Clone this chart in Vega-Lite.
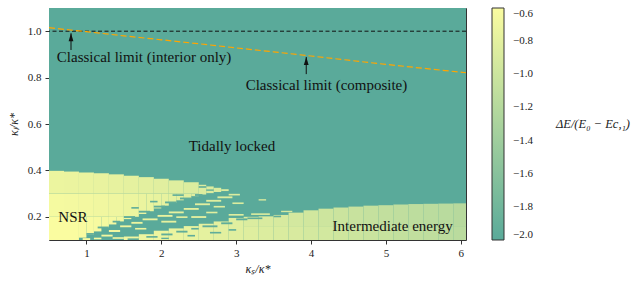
{
  "$schema": "https://vega.github.io/schema/vega-lite/v6.json",
  "width": 417,
  "height": 232,
  "autosize": "none",
  "padding": {"left": 49, "top": 8, "right": 178, "bottom": 44},
  "background": "white",
  "datasets": {
    "cells": [
      {"x": 0.5, "x2": 6.07, "y": 0.1, "y2": 1.1, "v": -2.0},
      {"x": 0.5, "x2": 0.7, "y": 0.1, "y2": 0.2, "v": -0.6},
      {"x": 0.5, "x2": 0.7, "y": 0.2, "y2": 0.3, "v": -0.64},
      {"x": 0.5, "x2": 0.7, "y": 0.3, "y2": 0.398, "v": -0.72},
      {"x": 0.7, "x2": 0.9, "y": 0.1, "y2": 0.2, "v": -0.6},
      {"x": 0.7, "x2": 0.9, "y": 0.2, "y2": 0.3, "v": -0.65},
      {"x": 0.7, "x2": 0.9, "y": 0.3, "y2": 0.395, "v": -0.73},
      {"x": 0.9, "x2": 1.1, "y": 0.3, "y2": 0.391, "v": -0.74},
      {"x": 1.1, "x2": 1.3, "y": 0.3, "y2": 0.388, "v": -0.75},
      {"x": 1.3, "x2": 1.5, "y": 0.3, "y2": 0.383, "v": -0.77},
      {"x": 1.5, "x2": 1.7, "y": 0.3, "y2": 0.377, "v": -0.78},
      {"x": 1.7, "x2": 1.9, "y": 0.3, "y2": 0.371, "v": -0.8},
      {"x": 1.9, "x2": 2.1, "y": 0.3, "y2": 0.364, "v": -0.82},
      {"x": 2.1, "x2": 2.3, "y": 0.3, "y2": 0.357, "v": -0.84},
      {"x": 2.3, "x2": 2.5, "y": 0.3, "y2": 0.349, "v": -0.86},
      {"x": 0.9, "x2": 1.1, "y": 0.2, "y2": 0.3, "v": -0.66},
      {"x": 1.1, "x2": 1.3, "y": 0.2, "y2": 0.3, "v": -0.68},
      {"x": 1.3, "x2": 1.5, "y": 0.2, "y2": 0.3, "v": -0.7},
      {"x": 1.5, "x2": 1.7, "y": 0.2, "y2": 0.3, "v": -0.72},
      {"x": 1.7, "x2": 1.8, "y": 0.212, "y2": 0.3, "v": -0.73},
      {"x": 1.8, "x2": 1.9, "y": 0.224, "y2": 0.3, "v": -0.74},
      {"x": 1.9, "x2": 2.0, "y": 0.236, "y2": 0.3, "v": -0.76},
      {"x": 2.0, "x2": 2.1, "y": 0.248, "y2": 0.3, "v": -0.77},
      {"x": 2.1, "x2": 2.2, "y": 0.26, "y2": 0.3, "v": -0.79},
      {"x": 2.2, "x2": 2.3, "y": 0.271, "y2": 0.3, "v": -0.8},
      {"x": 2.3, "x2": 2.4, "y": 0.28, "y2": 0.3, "v": -0.82},
      {"x": 2.4, "x2": 2.5, "y": 0.289, "y2": 0.3, "v": -0.84},
      {"x": 0.9, "x2": 1.0, "y": 0.11, "y2": 0.2, "v": -0.61},
      {"x": 1.0, "x2": 1.1, "y": 0.122, "y2": 0.2, "v": -0.62},
      {"x": 1.1, "x2": 1.2, "y": 0.137, "y2": 0.2, "v": -0.63},
      {"x": 1.2, "x2": 1.3, "y": 0.152, "y2": 0.2, "v": -0.64},
      {"x": 1.3, "x2": 1.4, "y": 0.167, "y2": 0.2, "v": -0.65},
      {"x": 1.4, "x2": 1.5, "y": 0.18, "y2": 0.2, "v": -0.67},
      {"x": 1.5, "x2": 1.6, "y": 0.19, "y2": 0.2, "v": -0.69},
      {"x": 2.5, "x2": 2.6, "y": 0.296, "y2": 0.338, "v": -0.86},
      {"x": 2.6, "x2": 2.7, "y": 0.302, "y2": 0.331, "v": -0.87},
      {"x": 2.7, "x2": 2.8, "y": 0.307, "y2": 0.325, "v": -0.88},
      {"x": 2.8, "x2": 2.9, "y": 0.311, "y2": 0.319, "v": -0.89},
      {"x": 1.5, "x2": 1.7, "y": 0.1, "y2": 0.115, "v": -0.7},
      {"x": 1.7, "x2": 1.9, "y": 0.1, "y2": 0.125, "v": -0.71},
      {"x": 1.9, "x2": 2.1, "y": 0.1, "y2": 0.14, "v": -0.72},
      {"x": 2.1, "x2": 2.3, "y": 0.1, "y2": 0.15, "v": -0.74},
      {"x": 2.3, "x2": 2.5, "y": 0.1, "y2": 0.16, "v": -0.76},
      {"x": 2.5, "x2": 2.7, "y": 0.1, "y2": 0.17, "v": -0.78},
      {"x": 2.7, "x2": 2.9, "y": 0.1, "y2": 0.18, "v": -0.8},
      {"x": 2.9, "x2": 3.1, "y": 0.1, "y2": 0.195, "v": -0.82},
      {"x": 3.1, "x2": 3.3, "y": 0.1, "y2": 0.16, "v": -0.84},
      {"x": 3.1, "x2": 3.3, "y": 0.16, "y2": 0.2, "v": -0.87},
      {"x": 3.3, "x2": 3.5, "y": 0.1, "y2": 0.16, "v": -0.86},
      {"x": 3.3, "x2": 3.5, "y": 0.16, "y2": 0.202, "v": -0.89},
      {"x": 3.5, "x2": 3.7, "y": 0.1, "y2": 0.16, "v": -0.88},
      {"x": 3.5, "x2": 3.7, "y": 0.16, "y2": 0.208, "v": -0.91},
      {"x": 3.7, "x2": 3.9, "y": 0.1, "y2": 0.16, "v": -0.9},
      {"x": 3.7, "x2": 3.9, "y": 0.16, "y2": 0.218, "v": -0.94},
      {"x": 3.9, "x2": 4.1, "y": 0.1, "y2": 0.16, "v": -0.93},
      {"x": 3.9, "x2": 4.1, "y": 0.16, "y2": 0.228, "v": -0.96},
      {"x": 4.1, "x2": 4.3, "y": 0.1, "y2": 0.16, "v": -0.95},
      {"x": 4.1, "x2": 4.3, "y": 0.16, "y2": 0.235, "v": -0.99},
      {"x": 4.3, "x2": 4.5, "y": 0.1, "y2": 0.16, "v": -0.98},
      {"x": 4.3, "x2": 4.5, "y": 0.16, "y2": 0.24, "v": -1.01},
      {"x": 4.5, "x2": 4.7, "y": 0.1, "y2": 0.16, "v": -1.0},
      {"x": 4.5, "x2": 4.7, "y": 0.16, "y2": 0.244, "v": -1.04},
      {"x": 4.7, "x2": 4.9, "y": 0.1, "y2": 0.16, "v": -1.03},
      {"x": 4.7, "x2": 4.9, "y": 0.16, "y2": 0.248, "v": -1.06},
      {"x": 4.9, "x2": 5.1, "y": 0.1, "y2": 0.16, "v": -1.05},
      {"x": 4.9, "x2": 5.1, "y": 0.16, "y2": 0.25, "v": -1.09},
      {"x": 5.1, "x2": 5.3, "y": 0.1, "y2": 0.16, "v": -1.08},
      {"x": 5.1, "x2": 5.3, "y": 0.16, "y2": 0.253, "v": -1.11},
      {"x": 5.3, "x2": 5.5, "y": 0.1, "y2": 0.16, "v": -1.1},
      {"x": 5.3, "x2": 5.5, "y": 0.16, "y2": 0.255, "v": -1.13},
      {"x": 5.5, "x2": 5.7, "y": 0.1, "y2": 0.16, "v": -1.12},
      {"x": 5.5, "x2": 5.7, "y": 0.16, "y2": 0.256, "v": -1.15},
      {"x": 5.7, "x2": 5.9, "y": 0.1, "y2": 0.16, "v": -1.14},
      {"x": 5.7, "x2": 5.9, "y": 0.16, "y2": 0.257, "v": -1.17},
      {"x": 5.9, "x2": 6.07, "y": 0.1, "y2": 0.16, "v": -1.16},
      {"x": 5.9, "x2": 6.07, "y": 0.16, "y2": 0.258, "v": -1.19},
      {"x": 1.0, "x2": 1.1, "y": 0.122, "y2": 0.13, "v": -1.95},
      {"x": 1.15, "x2": 1.3, "y": 0.15, "y2": 0.158, "v": -1.95},
      {"x": 1.35, "x2": 1.45, "y": 0.175, "y2": 0.183, "v": -1.95},
      {"x": 1.5, "x2": 1.65, "y": 0.195, "y2": 0.203, "v": -1.95},
      {"x": 1.7, "x2": 1.85, "y": 0.218, "y2": 0.226, "v": -1.95},
      {"x": 1.9, "x2": 2.05, "y": 0.24, "y2": 0.248, "v": -1.95},
      {"x": 2.05, "x2": 2.2, "y": 0.258, "y2": 0.266, "v": -1.95},
      {"x": 2.25, "x2": 2.4, "y": 0.275, "y2": 0.283, "v": -1.95},
      {"x": 2.45, "x2": 2.55, "y": 0.29, "y2": 0.298, "v": -1.95},
      {"x": 2.6, "x2": 2.7, "y": 0.312, "y2": 0.318, "v": -1.95},
      {"x": 2.5, "x2": 2.6, "y": 0.325, "y2": 0.332, "v": -1.95},
      {"x": 1.6, "x2": 1.7, "y": 0.235, "y2": 0.242, "v": -1.95},
      {"x": 1.85, "x2": 1.95, "y": 0.262, "y2": 0.269, "v": -1.95},
      {"x": 2.15, "x2": 2.3, "y": 0.29, "y2": 0.297, "v": -1.95},
      {"x": 1.55, "x2": 1.7, "y": 0.1, "y2": 0.107, "v": -1.95},
      {"x": 1.8, "x2": 1.95, "y": 0.11, "y2": 0.117, "v": -1.95},
      {"x": 2.0, "x2": 2.15, "y": 0.12, "y2": 0.128, "v": -1.95},
      {"x": 2.2, "x2": 2.35, "y": 0.132, "y2": 0.14, "v": -1.95},
      {"x": 2.4, "x2": 2.5, "y": 0.145, "y2": 0.152, "v": -1.95},
      {"x": 2.55, "x2": 2.75, "y": 0.155, "y2": 0.163, "v": -1.95},
      {"x": 2.8, "x2": 2.95, "y": 0.168, "y2": 0.176, "v": -1.95},
      {"x": 2.65, "x2": 2.8, "y": 0.128, "y2": 0.135, "v": -1.95},
      {"x": 2.35, "x2": 2.45, "y": 0.115, "y2": 0.122, "v": -1.95},
      {"x": 3.0, "x2": 3.15, "y": 0.185, "y2": 0.193, "v": -1.95},
      {"x": 3.15, "x2": 3.35, "y": 0.19, "y2": 0.197, "v": -1.95},
      {"x": 3.5, "x2": 3.6, "y": 0.198, "y2": 0.205, "v": -1.95},
      {"x": 2.0, "x2": 2.1, "y": 0.104, "y2": 0.11, "v": -1.95},
      {"x": 2.9, "x2": 3.0, "y": 0.14, "y2": 0.147, "v": -1.95},
      {"x": 0.95, "x2": 1.05, "y": 0.1, "y2": 0.108, "v": -0.63},
      {"x": 1.2, "x2": 1.35, "y": 0.115, "y2": 0.123, "v": -0.66},
      {"x": 1.3, "x2": 1.45, "y": 0.135, "y2": 0.143, "v": -0.68},
      {"x": 1.45, "x2": 1.6, "y": 0.155, "y2": 0.163, "v": -0.7},
      {"x": 1.6, "x2": 1.75, "y": 0.17, "y2": 0.178, "v": -0.72},
      {"x": 1.75, "x2": 1.95, "y": 0.185, "y2": 0.193, "v": -0.74},
      {"x": 1.95, "x2": 2.15, "y": 0.2, "y2": 0.208, "v": -0.76},
      {"x": 2.1, "x2": 2.3, "y": 0.215, "y2": 0.223, "v": -0.78},
      {"x": 2.3, "x2": 2.5, "y": 0.23, "y2": 0.238, "v": -0.8},
      {"x": 2.45, "x2": 2.65, "y": 0.25, "y2": 0.258, "v": -0.82},
      {"x": 2.6, "x2": 2.8, "y": 0.265, "y2": 0.273, "v": -0.84},
      {"x": 2.75, "x2": 2.95, "y": 0.28, "y2": 0.288, "v": -0.86},
      {"x": 2.9, "x2": 3.05, "y": 0.292, "y2": 0.299, "v": -0.88},
      {"x": 3.3, "x2": 3.4, "y": 0.27, "y2": 0.276, "v": -0.9},
      {"x": 2.0, "x2": 2.2, "y": 0.175, "y2": 0.183, "v": -0.78},
      {"x": 2.4, "x2": 2.6, "y": 0.195, "y2": 0.203, "v": -0.8},
      {"x": 2.9, "x2": 3.1, "y": 0.205, "y2": 0.212, "v": -0.84},
      {"x": 3.2, "x2": 3.45, "y": 0.208, "y2": 0.215, "v": -0.88},
      {"x": 3.6, "x2": 3.75, "y": 0.22, "y2": 0.226, "v": -0.92},
      {"x": 1.1, "x2": 1.2, "y": 0.103, "y2": 0.11, "v": -0.64},
      {"x": 1.35, "x2": 1.5, "y": 0.105, "y2": 0.112, "v": -0.67},
      {"x": 1.65, "x2": 1.8, "y": 0.145, "y2": 0.152, "v": -0.72},
      {"x": 2.2, "x2": 2.35, "y": 0.195, "y2": 0.202, "v": -0.78},
      {"x": 2.6, "x2": 2.75, "y": 0.215, "y2": 0.222, "v": -0.82},
      {"x": 2.7, "x2": 2.85, "y": 0.24, "y2": 0.247, "v": -0.84},
      {"x": 2.95, "x2": 3.1, "y": 0.255, "y2": 0.262, "v": -0.88}
    ]
  },
  "config": {
    "font": "Liberation Serif",
    "view": {"stroke": "#333", "strokeWidth": 1},
    "axis": {
      "labelFont": "Liberation Serif",
      "titleFont": "Liberation Serif",
      "labelFontSize": 11,
      "titleFontSize": 12,
      "titleFontWeight": "normal",
      "titleFontStyle": "italic",
      "labelColor": "#222",
      "titleColor": "#222",
      "tickColor": "#333",
      "tickSize": 4,
      "domain": false,
      "grid": true,
      "gridColor": "#000",
      "gridOpacity": 0.07,
      "zindex": 1
    },
    "legend": {
      "labelFont": "Liberation Serif",
      "titleFont": "Liberation Serif"
    }
  },
  "layer": [
    {
      "data": {"name": "cells"},
      "mark": {"type": "rect"},
      "encoding": {
        "x": {
          "field": "x", "type": "quantitative",
          "scale": {"domain": [0.5, 6.07], "nice": false, "zero": false},
          "axis": {"values": [1, 2, 3, 4, 5, 6], "format": "d", "title": "κₛ/κ*", "labelFont": "Liberation Serif", "titleFont": "Liberation Serif", "labelPadding": 3, "titlePadding": 5}
        },
        "x2": {"field": "x2"},
        "y": {
          "field": "y", "type": "quantitative",
          "scale": {"domain": [0.1, 1.1], "nice": false, "zero": false},
          "axis": {"values": [0.2, 0.4, 0.6, 0.8, 1.0], "format": ".1f", "title": "κₗ/κ*", "labelFont": "Liberation Serif", "titleFont": "Liberation Serif", "labelPadding": 4, "titlePadding": 7}
        },
        "y2": {"field": "y2"},
        "color": {
          "field": "v", "type": "quantitative",
          "scale": {"domain": [-2.0, -0.6], "range": ["#5aaa9a", "#fafca0"], "interpolate": "rgb", "clamp": true},
          "legend": {
            "type": "gradient",
            "title": null,
            "orient": "right",
            "offset": 26,
            "padding": 0,
            "direction": "vertical",
            "gradientLength": 232,
            "gradientThickness": 12,
            "gradientStrokeColor": "#333",
            "gradientStrokeWidth": 1,
            "values": [-2.0, -1.8, -1.6, -1.4, -1.2, -1.0, -0.8, -0.6],
            "format": ".1f",
            "labelFont": "Liberation Serif",
            "labelFontSize": 11,
            "labelOffset": 9,
            "labelColor": "#222"
          }
        }
      }
    },
    {
      "data": {"values": [{"y": 1.0}]},
      "mark": {"type": "rule", "color": "#111", "strokeWidth": 1, "strokeDash": [4, 2.5]},
      "encoding": {"y": {"field": "y", "type": "quantitative"}}
    },
    {
      "data": {
        "values": [
          {"x": 0.5, "y": 1.015}, {"x": 1.0, "y": 0.998}, {"x": 1.5, "y": 0.98},
          {"x": 2.0, "y": 0.963}, {"x": 2.5, "y": 0.946}, {"x": 3.0, "y": 0.928},
          {"x": 3.5, "y": 0.911}, {"x": 4.0, "y": 0.893}, {"x": 4.5, "y": 0.875},
          {"x": 5.0, "y": 0.857}, {"x": 5.5, "y": 0.84}, {"x": 6.07, "y": 0.821}
        ]
      },
      "mark": {"type": "line", "color": "#ffa500", "strokeWidth": 1.2, "strokeDash": [6, 3]},
      "encoding": {
        "x": {"field": "x", "type": "quantitative"},
        "y": {"field": "y", "type": "quantitative"}
      }
    },
    {
      "data": {
        "values": [
          {"x": 0.794, "y": 0.919, "y2": 0.991},
          {"x": 3.936, "y": 0.815, "y2": 0.889}
        ]
      },
      "layer": [
        {
          "mark": {"type": "rule", "color": "#111", "strokeWidth": 1},
          "encoding": {
            "x": {"field": "x", "type": "quantitative"},
            "y": {"field": "y", "type": "quantitative"},
            "y2": {"field": "y2"}
          }
        },
        {
          "mark": {"type": "point", "shape": "M0,0L0.6,2L-0.6,2Z", "filled": true, "color": "#111", "size": 64, "opacity": 1},
          "encoding": {
            "x": {"field": "x", "type": "quantitative"},
            "y": {"field": "y2", "type": "quantitative"}
          }
        }
      ]
    },
    {
      "data": {
        "values": [
          {"x": 1.77, "y": 0.889, "label": "Classical limit (interior only)"},
          {"x": 4.206, "y": 0.768, "label": "Classical limit (composite)"},
          {"x": 2.944, "y": 0.505, "label": "Tidally locked"},
          {"x": 0.82, "y": 0.199, "label": "NSR"},
          {"x": 5.09, "y": 0.16, "label": "Intermediate energy"}
        ]
      },
      "mark": {"type": "text", "font": "Liberation Serif", "fontSize": 15, "color": "#111", "align": "center", "baseline": "middle"},
      "encoding": {
        "x": {"field": "x", "type": "quantitative"},
        "y": {"field": "y", "type": "quantitative"},
        "text": {"field": "label"}
      }
    },
    {
      "data": {"values": [{"x": 7.766, "y": 0.6, "label": "ΔE/(E₀ − Ec,₁)"}]},
      "mark": {"type": "text", "font": "Liberation Serif", "fontSize": 12.5, "fontStyle": "italic", "color": "#222", "align": "center", "baseline": "middle", "clip": false},
      "encoding": {
        "x": {"field": "x", "type": "quantitative"},
        "y": {"field": "y", "type": "quantitative"},
        "text": {"field": "label"}
      }
    }
  ]
}
